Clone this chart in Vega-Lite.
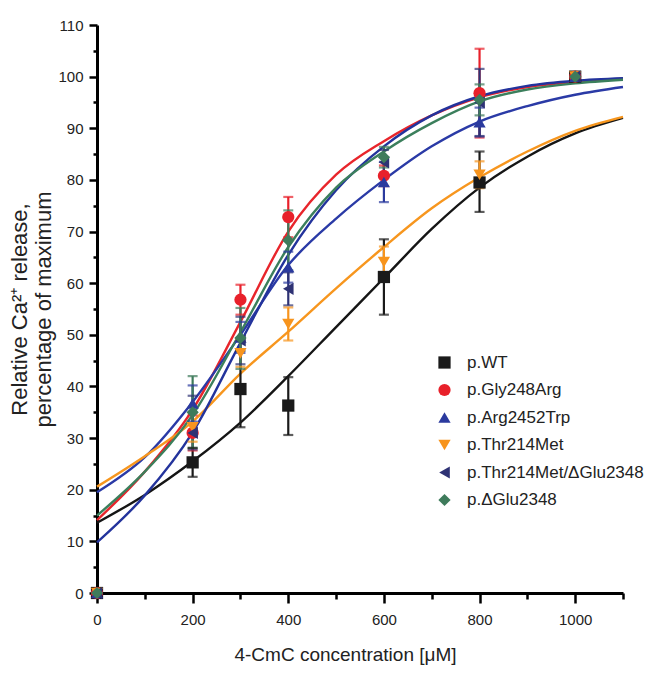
{
  "$schema": "https://vega.github.io/schema/vega-lite/v6.json",
  "width": 526,
  "height": 568,
  "autosize": "none",
  "padding": {"left": 97, "top": 25, "right": 34, "bottom": 105},
  "background": "white",
  "datasets": {
    "points": [
      {"g": "p.WT", "x": 0, "y": 0},
      {"g": "p.WT", "x": 200, "y": 25.3, "lo": 22.5, "hi": 28.1},
      {"g": "p.WT", "x": 300, "y": 39.5, "lo": 32.1, "hi": 46.9},
      {"g": "p.WT", "x": 400, "y": 36.3, "lo": 30.6, "hi": 41.8},
      {"g": "p.WT", "x": 600, "y": 61.2, "lo": 53.9, "hi": 68.5},
      {"g": "p.WT", "x": 800, "y": 79.5, "lo": 73.8, "hi": 85.5},
      {"g": "p.WT", "x": 1000, "y": 100},
      {"g": "p.Gly248Arg", "x": 0, "y": 0},
      {"g": "p.Gly248Arg", "x": 200, "y": 31, "lo": 27.6, "hi": 34.4},
      {"g": "p.Gly248Arg", "x": 300, "y": 56.8, "lo": 53.9, "hi": 59.7},
      {"g": "p.Gly248Arg", "x": 400, "y": 72.8, "lo": 68.9, "hi": 76.7},
      {"g": "p.Gly248Arg", "x": 600, "y": 80.8, "lo": 78.8, "hi": 82.8},
      {"g": "p.Gly248Arg", "x": 800, "y": 96.8, "lo": 88.2, "hi": 105.4},
      {"g": "p.Gly248Arg", "x": 1000, "y": 100},
      {"g": "p.Arg2452Trp", "x": 0, "y": 0},
      {"g": "p.Arg2452Trp", "x": 200, "y": 36.7, "lo": 33.2, "hi": 40.2},
      {"g": "p.Arg2452Trp", "x": 300, "y": 49.5, "lo": 46.5, "hi": 52.5},
      {"g": "p.Arg2452Trp", "x": 400, "y": 63.1, "lo": 60.1, "hi": 66.1},
      {"g": "p.Arg2452Trp", "x": 600, "y": 79.6, "lo": 75.7, "hi": 83.5},
      {"g": "p.Arg2452Trp", "x": 800, "y": 91.2, "lo": 88.4, "hi": 94},
      {"g": "p.Arg2452Trp", "x": 1000, "y": 100},
      {"g": "p.Thr214Met", "x": 0, "y": 0},
      {"g": "p.Thr214Met", "x": 200, "y": 32.1, "lo": 29.3, "hi": 34.9},
      {"g": "p.Thr214Met", "x": 300, "y": 46.4, "lo": 43.8, "hi": 49},
      {"g": "p.Thr214Met", "x": 400, "y": 52.1, "lo": 48.9, "hi": 55.3},
      {"g": "p.Thr214Met", "x": 600, "y": 64.1, "lo": 61.1, "hi": 67.1},
      {"g": "p.Thr214Met", "x": 800, "y": 81, "lo": 78.4, "hi": 83.6},
      {"g": "p.Thr214Met", "x": 1000, "y": 100},
      {"g": "p.Thr214Met/ΔGlu2348", "x": 0, "y": 0},
      {"g": "p.Thr214Met/ΔGlu2348", "x": 200, "y": 31, "lo": 27.8, "hi": 38.2},
      {"g": "p.Thr214Met/ΔGlu2348", "x": 300, "y": 48.9, "lo": 44.3, "hi": 53.5},
      {"g": "p.Thr214Met/ΔGlu2348", "x": 400, "y": 58.9, "lo": 55.7, "hi": 62.1},
      {"g": "p.Thr214Met/ΔGlu2348", "x": 600, "y": 83.4, "lo": 81, "hi": 85.8},
      {"g": "p.Thr214Met/ΔGlu2348", "x": 800, "y": 95, "lo": 88.5, "hi": 101.5},
      {"g": "p.Thr214Met/ΔGlu2348", "x": 1000, "y": 100},
      {"g": "p.ΔGlu2348", "x": 0, "y": 0},
      {"g": "p.ΔGlu2348", "x": 200, "y": 35, "lo": 28.1, "hi": 42},
      {"g": "p.ΔGlu2348", "x": 300, "y": 49.4, "lo": 43.4, "hi": 55.2},
      {"g": "p.ΔGlu2348", "x": 400, "y": 68.3, "lo": 62.5, "hi": 74.1},
      {"g": "p.ΔGlu2348", "x": 600, "y": 84.4, "lo": 82.4, "hi": 86.4},
      {"g": "p.ΔGlu2348", "x": 800, "y": 95.5, "lo": 92.5, "hi": 98.5},
      {"g": "p.ΔGlu2348", "x": 1000, "y": 100}
    ],
    "curves": [
      {"g": "p.WT", "x": 0, "y": 13.6}, {"g": "p.WT", "x": 100, "y": 19}, {"g": "p.WT", "x": 200, "y": 25.5}, {"g": "p.WT", "x": 300, "y": 33}, {"g": "p.WT", "x": 400, "y": 42}, {"g": "p.WT", "x": 500, "y": 51.5}, {"g": "p.WT", "x": 600, "y": 61}, {"g": "p.WT", "x": 700, "y": 70.5}, {"g": "p.WT", "x": 800, "y": 78.5}, {"g": "p.WT", "x": 900, "y": 84.5}, {"g": "p.WT", "x": 1000, "y": 89}, {"g": "p.WT", "x": 1100, "y": 92},
      {"g": "p.Gly248Arg", "x": 0, "y": 14.1}, {"g": "p.Gly248Arg", "x": 100, "y": 23.5}, {"g": "p.Gly248Arg", "x": 200, "y": 35.5}, {"g": "p.Gly248Arg", "x": 300, "y": 52.5}, {"g": "p.Gly248Arg", "x": 400, "y": 70}, {"g": "p.Gly248Arg", "x": 500, "y": 81}, {"g": "p.Gly248Arg", "x": 600, "y": 87.5}, {"g": "p.Gly248Arg", "x": 700, "y": 92.5}, {"g": "p.Gly248Arg", "x": 800, "y": 96}, {"g": "p.Gly248Arg", "x": 900, "y": 98}, {"g": "p.Gly248Arg", "x": 1000, "y": 99}, {"g": "p.Gly248Arg", "x": 1100, "y": 99.6},
      {"g": "p.Arg2452Trp", "x": 0, "y": 19.5}, {"g": "p.Arg2452Trp", "x": 100, "y": 26.3}, {"g": "p.Arg2452Trp", "x": 200, "y": 37}, {"g": "p.Arg2452Trp", "x": 300, "y": 50}, {"g": "p.Arg2452Trp", "x": 400, "y": 63.5}, {"g": "p.Arg2452Trp", "x": 500, "y": 72.5}, {"g": "p.Arg2452Trp", "x": 600, "y": 80}, {"g": "p.Arg2452Trp", "x": 700, "y": 86.5}, {"g": "p.Arg2452Trp", "x": 800, "y": 91.3}, {"g": "p.Arg2452Trp", "x": 900, "y": 94.3}, {"g": "p.Arg2452Trp", "x": 1000, "y": 96.5}, {"g": "p.Arg2452Trp", "x": 1100, "y": 98},
      {"g": "p.Thr214Met", "x": 0, "y": 20.6}, {"g": "p.Thr214Met", "x": 100, "y": 26.5}, {"g": "p.Thr214Met", "x": 200, "y": 33.2}, {"g": "p.Thr214Met", "x": 300, "y": 42.5}, {"g": "p.Thr214Met", "x": 400, "y": 50.6}, {"g": "p.Thr214Met", "x": 500, "y": 59}, {"g": "p.Thr214Met", "x": 600, "y": 67}, {"g": "p.Thr214Met", "x": 700, "y": 74.5}, {"g": "p.Thr214Met", "x": 800, "y": 80.5}, {"g": "p.Thr214Met", "x": 900, "y": 85.5}, {"g": "p.Thr214Met", "x": 1000, "y": 89.5}, {"g": "p.Thr214Met", "x": 1100, "y": 92.2},
      {"g": "p.Thr214Met/ΔGlu2348", "x": 0, "y": 9.8}, {"g": "p.Thr214Met/ΔGlu2348", "x": 100, "y": 18.9}, {"g": "p.Thr214Met/ΔGlu2348", "x": 200, "y": 31.1}, {"g": "p.Thr214Met/ΔGlu2348", "x": 300, "y": 48.5}, {"g": "p.Thr214Met/ΔGlu2348", "x": 400, "y": 65.5}, {"g": "p.Thr214Met/ΔGlu2348", "x": 500, "y": 78}, {"g": "p.Thr214Met/ΔGlu2348", "x": 600, "y": 86.5}, {"g": "p.Thr214Met/ΔGlu2348", "x": 700, "y": 92.5}, {"g": "p.Thr214Met/ΔGlu2348", "x": 800, "y": 96.2}, {"g": "p.Thr214Met/ΔGlu2348", "x": 900, "y": 98.2}, {"g": "p.Thr214Met/ΔGlu2348", "x": 1000, "y": 99.2}, {"g": "p.Thr214Met/ΔGlu2348", "x": 1100, "y": 99.7},
      {"g": "p.ΔGlu2348", "x": 0, "y": 15}, {"g": "p.ΔGlu2348", "x": 100, "y": 23.5}, {"g": "p.ΔGlu2348", "x": 200, "y": 34.5}, {"g": "p.ΔGlu2348", "x": 300, "y": 50.5}, {"g": "p.ΔGlu2348", "x": 400, "y": 67}, {"g": "p.ΔGlu2348", "x": 500, "y": 78.5}, {"g": "p.ΔGlu2348", "x": 600, "y": 85.5}, {"g": "p.ΔGlu2348", "x": 700, "y": 91}, {"g": "p.ΔGlu2348", "x": 800, "y": 95.2}, {"g": "p.ΔGlu2348", "x": 900, "y": 97.5}, {"g": "p.ΔGlu2348", "x": 1000, "y": 98.7}, {"g": "p.ΔGlu2348", "x": 1100, "y": 99.4}
    ]
  },
  "encoding": {
    "x": {
      "field": "x", "type": "quantitative",
      "scale": {"domain": [0, 1100], "nice": false, "zero": false},
      "axis": {
        "title": "4-CmC concentration [μM]",
        "values": [0, 100, 200, 300, 400, 500, 600, 700, 800, 900, 1000, 1100],
        "format": "d",
        "labelExpr": "datum.value % 200 === 0 ? datum.label : ''",
        "tickSize": {"condition": {"test": "datum.value % 200 === 0", "value": 10}, "value": 6},
        "labelPadding": 9,
        "labelFlush": false,
        "labelOverlap": false,
        "titlePadding": 18,
        "titleFontSize": 19,
        "titleX": 248
      }
    },
    "y": {
      "field": "y", "type": "quantitative",
      "scale": {"domain": [0, 110], "nice": false},
      "axis": {
        "title": ["Relative Ca²⁺ release,", "percentage of maximum"],
        "values": [0, 5, 10, 15, 20, 25, 30, 35, 40, 45, 50, 55, 60, 65, 70, 75, 80, 85, 90, 95, 100, 105, 110],
        "format": "d",
        "labelExpr": "datum.value % 10 === 0 ? datum.label : ''",
        "tickSize": {"condition": {"test": "datum.value % 10 === 0", "value": 8}, "value": 4},
        "labelPadding": 6,
        "labelOverlap": false,
        "titleFontSize": 22,
        "titleLineHeight": 24,
        "titlePadding": 2
      }
    }
  },
  "resolve": {"scale": {"stroke": "independent"}},
  "layer": [
    {
      "data": {"name": "curves"},
      "mark": {"type": "line", "interpolate": "monotone", "strokeWidth": 2.4, "clip": false},
      "encoding": {
        "detail": {"field": "g"},
        "stroke": {
          "field": "g", "type": "nominal", "legend": null,
          "scale": {
            "domain": ["p.ΔGlu2348", "p.Thr214Met/ΔGlu2348", "p.Thr214Met", "p.Arg2452Trp", "p.Gly248Arg", "p.WT"],
            "range": ["#3b7f5c", "#23339c", "#f7961e", "#2a3aa6", "#e8252b", "#151515"]
          }
        }
      }
    },
    {
      "data": {"name": "points"},
      "transform": [{"filter": "isValid(datum.lo)"}],
      "mark": {"type": "rule", "strokeWidth": 2.2},
      "encoding": {
        "y": {"field": "lo", "type": "quantitative"},
        "y2": {"field": "hi"},
        "stroke": {
          "field": "g", "type": "nominal", "legend": null,
          "scale": {
            "domain": ["p.Gly248Arg", "p.WT", "p.Arg2452Trp", "p.Thr214Met", "p.Thr214Met/ΔGlu2348", "p.ΔGlu2348"],
            "range": ["#e8202a", "#1a1a1a", "#2b3a9e", "#f7941d", "#2e3274", "#3e7b5b"]
          }
        }
      }
    },
    {
      "data": {"name": "points"},
      "transform": [{"filter": "isValid(datum.lo)"}],
      "mark": {"type": "tick", "orient": "horizontal", "size": 10, "thickness": 2.2},
      "encoding": {
        "y": {"field": "lo", "type": "quantitative"},
        "fill": {
          "field": "g", "type": "nominal", "legend": null,
          "scale": {
            "domain": ["p.WT", "p.Gly248Arg", "p.Thr214Met", "p.Arg2452Trp", "p.Thr214Met/ΔGlu2348", "p.ΔGlu2348"],
            "range": ["#1a1a1a", "#e8202a", "#f7941d", "#2b3a9e", "#2e3274", "#3e7b5b"]
          }
        }
      }
    },
    {
      "data": {"name": "points"},
      "transform": [{"filter": "isValid(datum.hi)"}],
      "mark": {"type": "tick", "orient": "horizontal", "size": 10, "thickness": 2.2},
      "encoding": {
        "y": {"field": "hi", "type": "quantitative"},
        "fill": {"field": "g", "type": "nominal", "legend": null}
      }
    },
    {
      "data": {"name": "points"},
      "mark": {"type": "point", "filled": true, "opacity": 1, "size": 150},
      "encoding": {
        "color": {
          "field": "g", "type": "nominal",
          "scale": {
            "domain": ["p.WT", "p.Gly248Arg", "p.Arg2452Trp", "p.Thr214Met", "p.Thr214Met/ΔGlu2348", "p.ΔGlu2348"],
            "range": ["#1a1a1a", "#e8202a", "#2b3a9e", "#f7941d", "#2e3274", "#3e7b5b"]
          },
          "legend": {"title": null, "orient": "none", "legendX": 339, "legendY": 329}
        },
        "shape": {
          "field": "g", "type": "nominal",
          "scale": {
            "domain": ["p.WT", "p.Gly248Arg", "p.Arg2452Trp", "p.Thr214Met", "p.Thr214Met/ΔGlu2348", "p.ΔGlu2348"],
            "range": ["square", "circle", "triangle-up", "triangle-down", "triangle-left", "diamond"]
          },
          "legend": {"title": null, "orient": "none", "legendX": 339, "legendY": 329}
        }
      }
    }
  ],
  "config": {
    "view": {"stroke": null},
    "font": "Liberation Sans",
    "axis": {
      "grid": false,
      "domainColor": "#000",
      "domainWidth": 3,
      "tickColor": "#000",
      "tickWidth": 2.5,
      "labelFont": "Liberation Sans",
      "labelFontSize": 15,
      "labelColor": "#222",
      "titleFont": "Liberation Sans",
      "titleFontWeight": "normal",
      "titleColor": "#222"
    },
    "legend": {
      "padding": 0,
      "labelFont": "Liberation Sans",
      "labelFontSize": 17,
      "labelColor": "#222",
      "symbolSize": 150,
      "symbolStrokeWidth": 0,
      "rowPadding": 9.5,
      "labelOffset": 14,
      "labelLimit": 300
    }
  }
}
